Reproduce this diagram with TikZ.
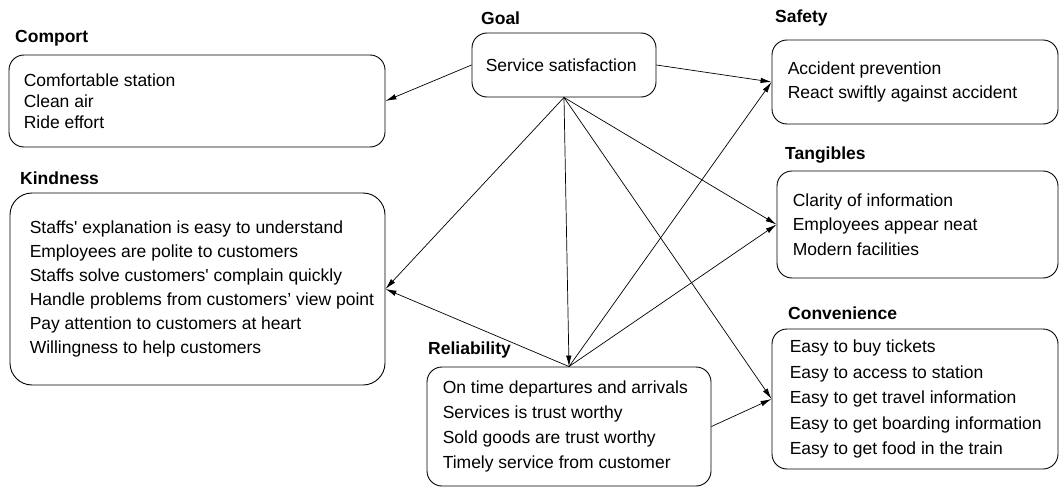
\documentclass[tikz,border=0pt]{standalone}
\usepackage{fontspec}
\setmainfont{Liberation Sans}
\usetikzlibrary{arrows.meta}
\usetikzlibrary{positioning}

\tikzset{
  factor/.style={draw, rounded corners=15pt, line width=0.9pt, inner sep=0pt},
  items/.style={anchor=west, align=left, inner sep=0pt, font=\fontsize{17.5}{24.6}\selectfont},
  heading/.style={anchor=west, inner sep=0pt, font=\bfseries\fontsize{17.5}{20}\selectfont},
  link/.style={-{Latex[length=11pt,width=5.5pt]}, line width=0.7pt},
}

\begin{document}
\begin{tikzpicture}[x=1pt,y=1pt,yscale=-1]
\useasboundingbox (0,0) rectangle (1061,487);

% Boxes
\node[factor, minimum width=376pt, minimum height=92pt] (comport) at (197,101) {};
\node[factor, minimum width=184pt, minimum height=64pt] (goal) at (564,65) {};
\node[factor, minimum width=286pt, minimum height=84pt] (safety) at (915,82) {};
\node[factor, minimum width=281pt, minimum height=107pt] (tang) at (917.5,224.5) {};
\node[factor, rounded corners=22pt, minimum width=375pt, minimum height=192pt] (kind) at (197.5,289) {};
\node[factor, minimum width=284pt, minimum height=119pt] (rel) at (569,426.5) {};
\node[factor, minimum width=286pt, minimum height=140pt] (conv) at (915,399) {};

% Headings
\node[heading] (comportT) at (15,38) {Comport};
\node[heading] (goalT) at (481,18) {Goal};
\node[heading] (safetyT) at (775,18) {Safety};
\node[heading] (tangT) at (785,155) {Tangibles};
\node[heading] (kindT) at (20,178) {Kindness};
\node[heading] (relT) at (428,350) {Reliability};
\node[heading] (convT) at (788,313) {Convenience};

% Box texts
\node[items, font=\fontsize{17.5}{21}\selectfont, right=15pt of comport.west] (comportX) {Comfortable station\\Clean air\\Ride effort};
\node[items, right=14pt of goal.west] (goalX) {Service satisfaction};
\node[items, right=16pt of safety.west] (safetyX) {Accident prevention\\React swiftly against accident};
\node[items, right=16pt of tang.west] (tangX) {Clarity of information\\Employees appear neat\\Modern facilities};
\node[items, font=\fontsize{17.5}{24}\selectfont, right=20pt of kind.west] (kindX) {Staffs\textquotesingle{} explanation is easy to understand\\Employees are polite to customers\\Staffs solve customers\textquotesingle{} complain quickly\\Handle problems from customers’ view point\\Pay attention to customers at heart\\Willingness to help customers};
\node[items, font=\fontsize{17.5}{25.3}\selectfont, right=16pt of rel.west] (relX) {On time departures and arrivals\\Services is trust worthy\\Sold goods are trust worthy\\Timely service from customer};
\node[items, font=\fontsize{17.5}{25.5}\selectfont, right=18pt of conv.west] (convX) {Easy to buy tickets\\Easy to access to station\\Easy to get travel information\\Easy to get boarding information\\Easy to get food in the train};

% Links
\draw[link] (goal.west) -- (comport.east);
\draw[link] (goal.east) -- (safety.west);
\draw[link] (goal.south) -- (kind.east);
\draw[link] (goal.south) -- (rel.north);
\draw[link] (goal.south) -- (tang.west);
\draw[link] (goal.south) -- (conv.west);
\draw[link] (rel.north) -- (kind.east);
\draw[link] (rel.north) -- (safety.west);
\draw[link] (rel.north) -- (tang.west);
\draw[link] (rel.east) -- (conv.west);

\end{tikzpicture}
\end{document}
